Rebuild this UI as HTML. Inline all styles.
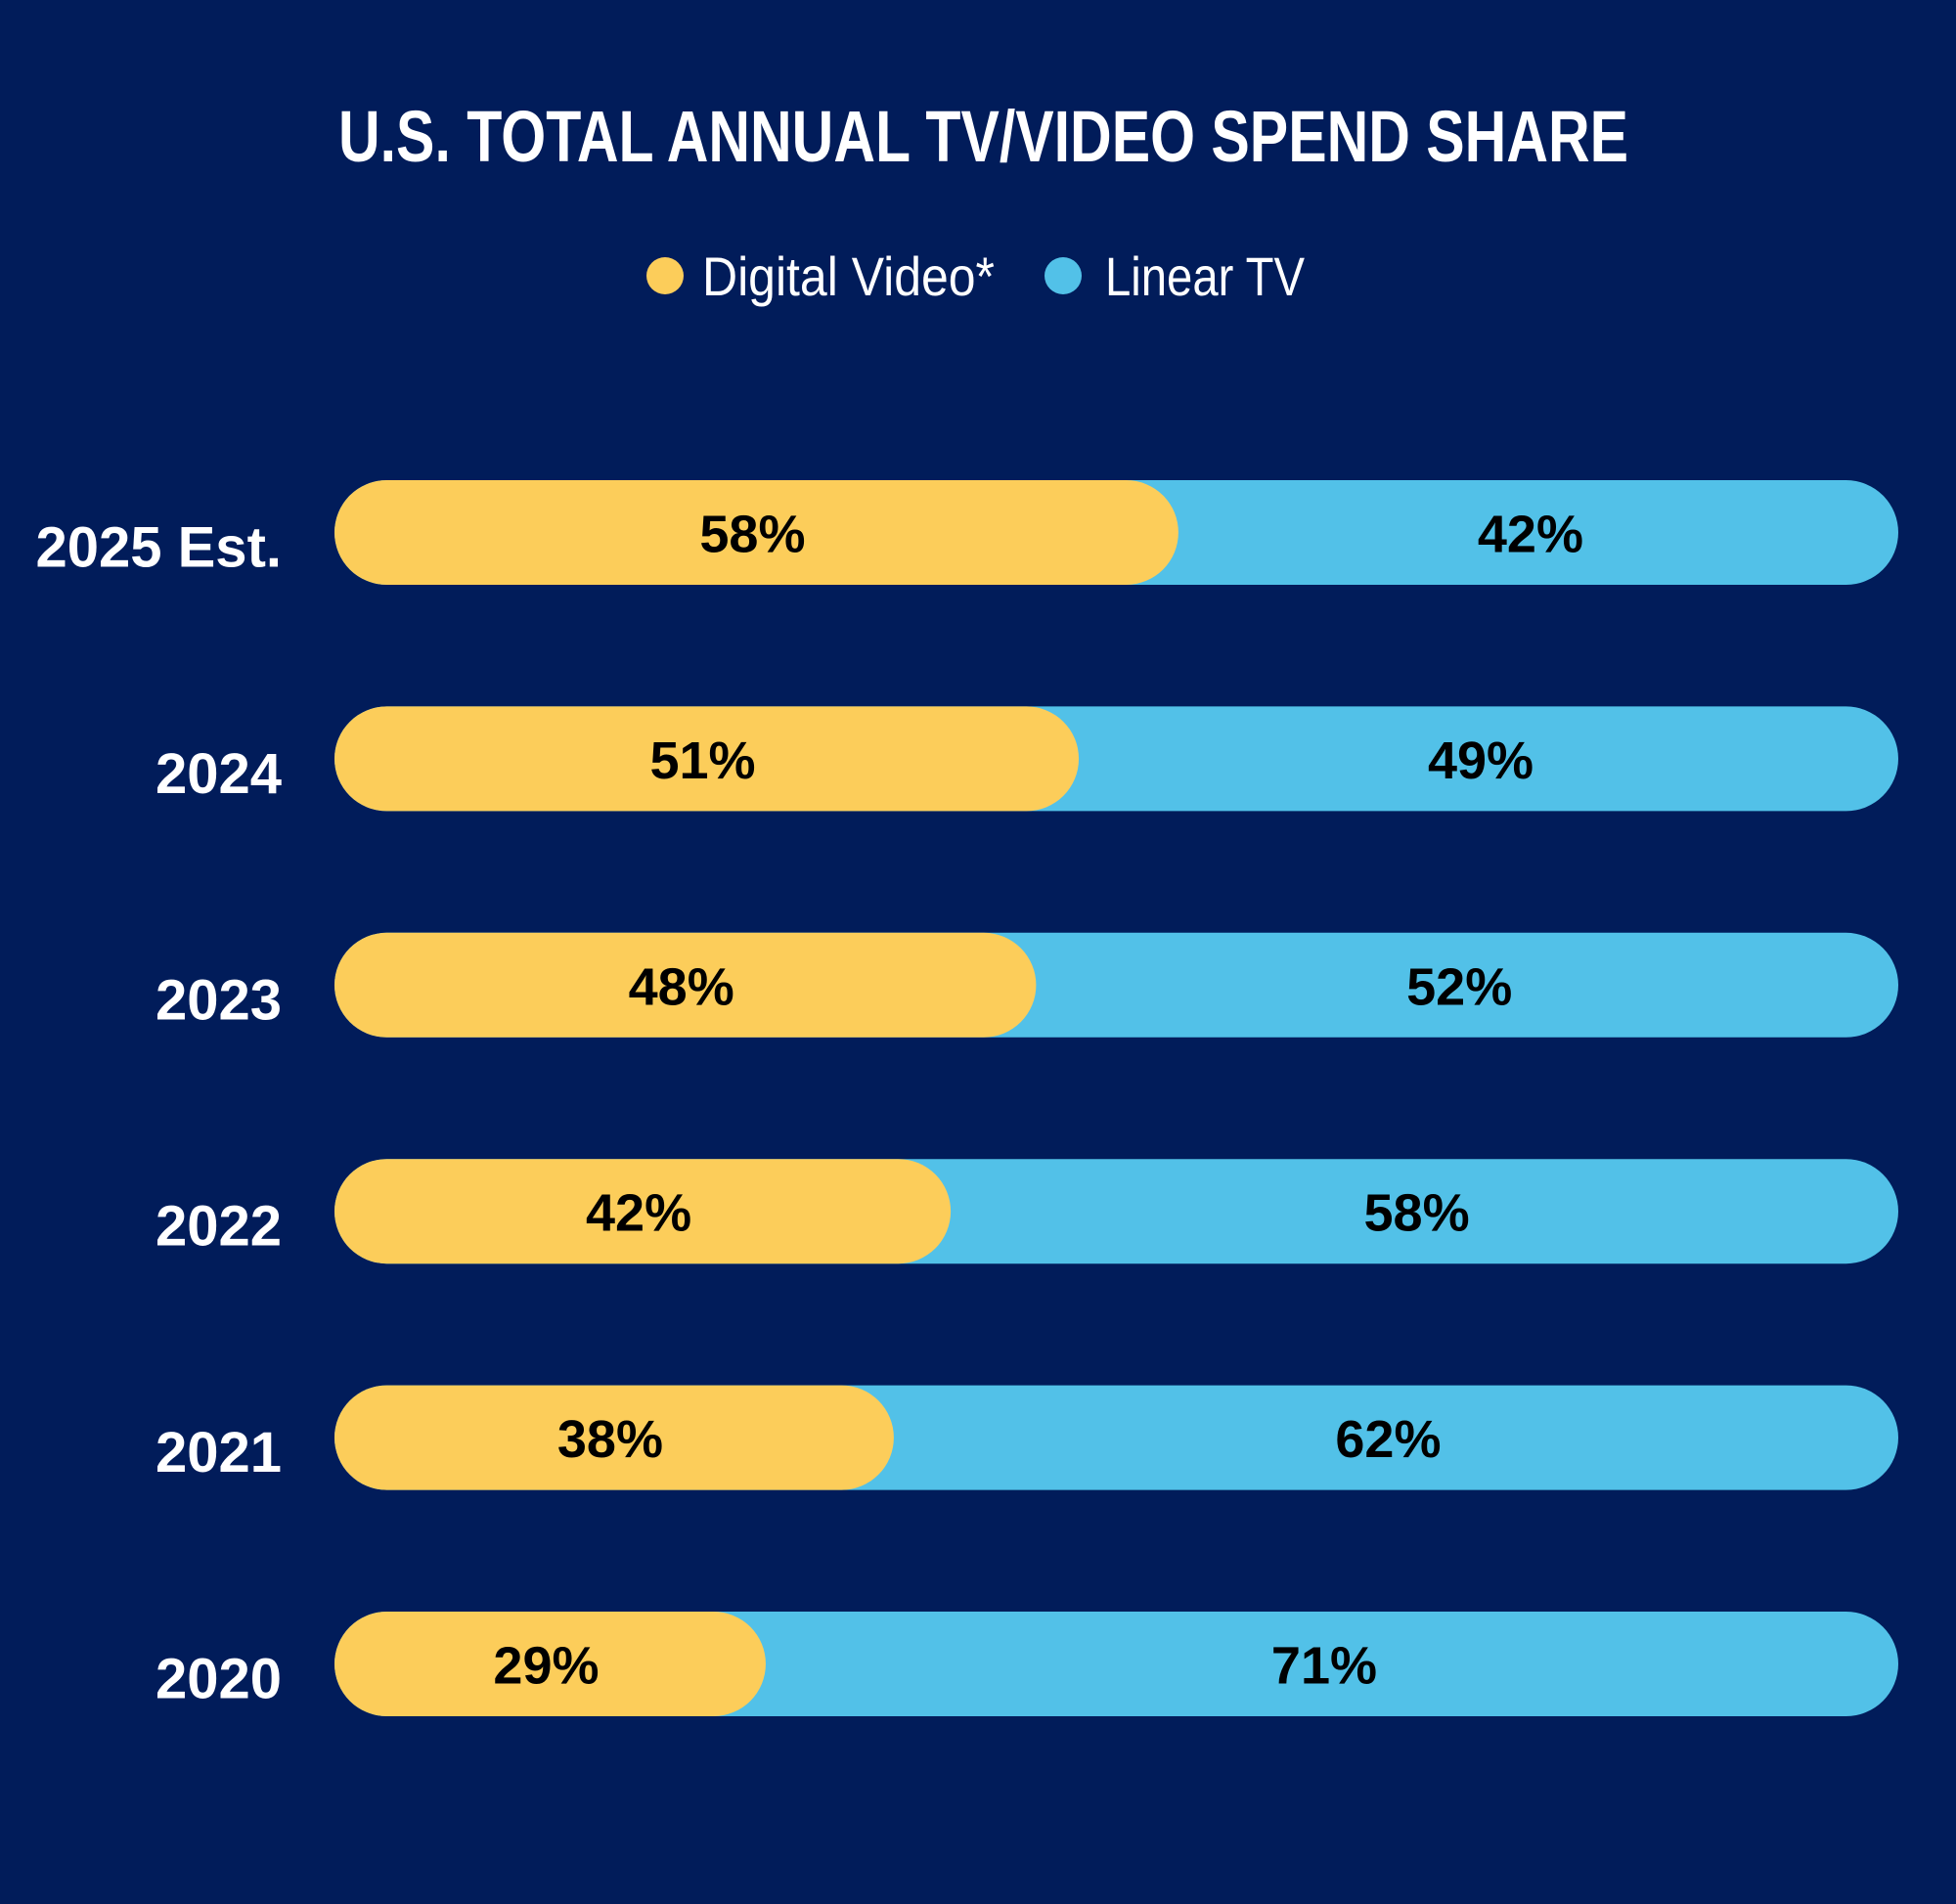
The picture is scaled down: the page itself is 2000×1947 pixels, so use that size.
<!DOCTYPE html>
<html><head><meta charset="utf-8"><style>
html,body{margin:0;padding:0;background:#011c5a;}
svg{display:block;}
</style></head><body>
<svg id="chart" width="2000" height="1947" viewBox="0 0 2000 1947" xmlns="http://www.w3.org/2000/svg">
<rect width="2000" height="1947" fill="#011c5a"/>
<text x="346" y="165" textLength="1319" lengthAdjust="spacingAndGlyphs" font-family="Liberation Sans, sans-serif" font-weight="bold" font-size="74" fill="#ffffff">U.S. TOTAL ANNUAL TV/VIDEO SPEND SHARE</text>
<g>
<circle cx="680" cy="282" r="19" fill="#fccd5a"/>
<text x="718" y="302" textLength="299" lengthAdjust="spacingAndGlyphs" font-family="Liberation Sans, sans-serif" font-size="56" fill="#ffffff">Digital Video*</text>
<circle cx="1087" cy="282" r="19" fill="#52c1e8"/>
<text x="1130" y="302" textLength="204" lengthAdjust="spacingAndGlyphs" font-family="Liberation Sans, sans-serif" font-size="56" fill="#ffffff">Linear TV</text>
</g>
<g id="bars"></g>
</svg>
<script>
const categories = ["2025 Est.", "2024", "2023", "2022", "2021", "2020"];
const digitalVideo = [58, 51, 48, 42, 38, 29];
const linearTV = [42, 49, 52, 58, 62, 71];

const NS = "http://www.w3.org/2000/svg";
const barLeft = 342, barRight = 1941, barH = 107, firstTop = 491, rowStep = 231.4;
function xScale(p){ return 361 + 14.55 * p; }
function yScale(i){ return firstTop + i * rowStep; }
const g = document.getElementById("bars");
function mk(tag, attrs){ const e = document.createElementNS(NS, tag); for (const k in attrs) e.setAttribute(k, attrs[k]); return e; }

categories.forEach((cat, i) => {
  const top = yScale(i), cy = top + barH / 2;
  const lab = mk("text", {x: 288, y: cy + 35, "text-anchor": "end", "font-family": "Liberation Sans, sans-serif", "font-weight": "bold", "font-size": "58", fill: "#ffffff"});
  
  
  lab.textContent = cat;
  g.appendChild(lab);

  const total = digitalVideo[i] + linearTV[i];
  const blue = mk("rect", {x: barLeft, y: top, width: barRight - barLeft, height: barH, rx: barH / 2, fill: "#52c1e8"});
  
  
  g.appendChild(blue);

  const end = xScale(digitalVideo[i] / total * 100);
  const yel = mk("rect", {x: barLeft, y: top, width: end - barLeft, height: barH, rx: barH / 2, fill: "#fccd5a"});
  
  
  g.appendChild(yel);

  const t1 = mk("text", {x: (barLeft + end) / 2 - 4, y: cy + 20, "text-anchor": "middle", "font-family": "Liberation Sans, sans-serif", "font-weight": "bold", "font-size": "54", fill: "#000000"});
  
  
  t1.textContent = digitalVideo[i] + "%";
  g.appendChild(t1);

  const t2 = mk("text", {x: (end + barRight) / 2 - 8, y: cy + 20, "text-anchor": "middle", "font-family": "Liberation Sans, sans-serif", "font-weight": "bold", "font-size": "54", fill: "#000000"});
  
  
  t2.textContent = linearTV[i] + "%";
  g.appendChild(t2);
});
</script>
</body></html>
